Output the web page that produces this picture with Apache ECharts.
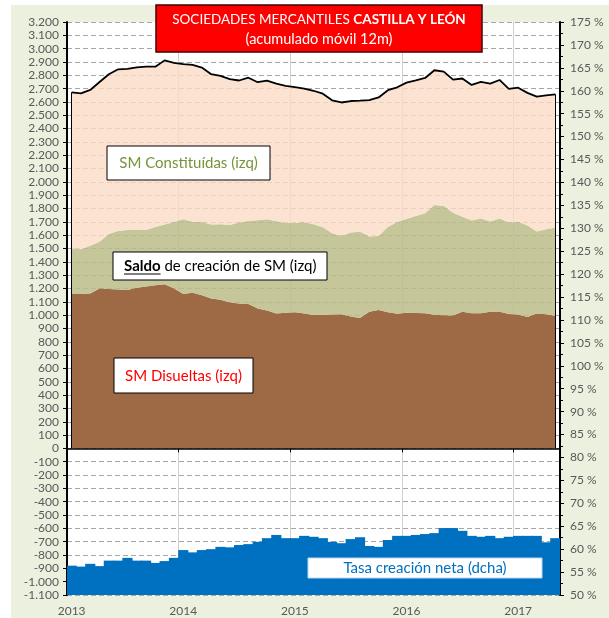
<!DOCTYPE html>
<html><head><meta charset="utf-8">
<script src="https://cdn.jsdelivr.net/npm/echarts@6/dist/echarts.min.js"></script>
<style>html,body{margin:0;padding:0;background:#fff}#c{width:609px;height:618px}</style>
</head><body><div id="c"></div>
<script>
const categories = [
 '2013-01','2013-02','2013-03','2013-04','2013-05','2013-06','2013-07','2013-08','2013-09','2013-10','2013-11','2013-12',
 '2014-01','2014-02','2014-03','2014-04','2014-05','2014-06','2014-07','2014-08','2014-09','2014-10','2014-11','2014-12',
 '2015-01','2015-02','2015-03','2015-04','2015-05','2015-06','2015-07','2015-08','2015-09','2015-10','2015-11','2015-12',
 '2016-01','2016-02','2016-03','2016-04','2016-05','2016-06','2016-07','2016-08','2016-09','2016-10','2016-11','2016-12',
 '2017-01','2017-02','2017-03','2017-04','2017-05'];
// top of brown band (SM Disueltas)
const topeDisueltas = [1159,1159,1162,1200,1196,1193,1189,1205,1216,1225,1232,1201,
 1159,1169,1150,1125,1115,1095,1088,1084,1050,1035,1012,1018,
 1021,1013,1002,1004,1005,1006,990,978,1026,1038,1022,1010,
 1018,1016,1014,1003,1000,997,1026,1014,1014,1025,1026,1008,
 1005,986,1012,1006,996];
// top of olive band (Saldo)
const topeSaldo = [1502,1494,1521,1551,1610,1632,1639,1639,1639,1662,1680,1700,
 1719,1701,1700,1680,1682,1677,1695,1706,1713,1720,1705,1692,
 1692,1697,1682,1660,1614,1594,1620,1626,1590,1594,1662,1700,
 1722,1745,1764,1826,1819,1769,1739,1710,1726,1702,1726,1695,
 1701,1672,1628,1644,1656];
// top of peach band (SM Constituidas, black line)
const topeConstituidas = [2672,2665,2690,2750,2808,2845,2848,2860,2865,2865,2912,2893,
 2884,2878,2858,2808,2795,2771,2761,2782,2748,2760,2738,2720,
 2712,2700,2684,2662,2612,2596,2607,2610,2614,2634,2688,2710,
 2745,2762,2780,2838,2828,2768,2776,2728,2750,2737,2765,2698,
 2707,2668,2640,2650,2657];
// Tasa creación neta (%), right axis
const tasaNeta = [56.4,56.2,56.8,56.3,57.5,57.5,58.1,57.5,57.5,57.0,57.4,58.1,
 59.8,59.3,59.8,60.0,60.5,60.4,60.9,61.1,61.6,62.4,63.1,62.4,
 62.4,62.9,62.7,62.4,61.6,61.3,62.2,62.6,60.7,60.5,62.0,62.9,
 62.9,63.1,63.3,63.5,64.6,64.6,64.0,62.9,62.7,62.9,62.4,62.7,
 62.9,62.9,62.9,61.5,62.4];

const bandSaldo = topeSaldo.map((v, i) => v - topeDisueltas[i]);
const bandConst = topeConstituidas.map((v, i) => v - topeSaldo[i]);
const last = categories.length - 1;

const fmtLeft = v => (v < 0 ? '-' : '') + Math.abs(v).toString().replace(/\B(?=(\d{3})+(?!\d))/g, '.');
const FONT = 'Lato';
const BOX = '15px ' + FONT;
const mctx = document.createElement('canvas').getContext('2d');
mctx.font = 'bold ' + BOX;
const saldoW = mctx.measureText('Saldo').width;

const chart = echarts.init(document.getElementById('c'), null, {renderer: 'canvas'});
chart.setOption({
  backgroundColor: '#EBF1DE',
  animation: false,
  grid: {left: 67, right: 49, top: 22, bottom: 23, show: true, backgroundColor: '#fff', borderWidth: 0},
  xAxis: [
    {type: 'category', data: categories, boundaryGap: true, position: 'bottom', z: 10,
     axisLine: {onZero: true, onZeroAxisIndex: 0, lineStyle: {color: '#000', width: 1.5}},
     axisTick: {show: true, interval: i => i % 12 === 0, length: 4, lineStyle: {color: '#000'}},
     axisLabel: {show: false},
     splitLine: {show: false}},
    {type: 'category', data: categories, boundaryGap: true, position: 'bottom',
     axisLine: {show: false, onZero: false}, axisTick: {show: false},
     axisLabel: {interval: i => i % 12 === 0, formatter: v => v.slice(0, 4), color: '#595959', fontSize: 12, fontFamily: FONT, margin: 10},
     splitLine: {show: true, interval: i => i % 12 === 0 && i > 0, lineStyle: {color: '#D0D0D0', width: 1, type: 'solid'}}}
  ],
  yAxis: [
    {type: 'value', min: -1100, max: 3200, interval: 100, position: 'left',
     axisLine: {show: true, lineStyle: {color: '#000', width: 2}},
     axisTick: {show: true, length: 4, lineStyle: {color: '#000'}},
     axisLabel: {formatter: fmtLeft, color: '#595959', fontSize: 12, fontFamily: FONT, margin: 8},
     splitLine: {show: true, lineStyle: {color: '#A6A6A6', width: 1, type: [5, 3]}}},
    {type: 'value', min: 50, max: 175, interval: 5, position: 'right', startValue: 50,
     axisLine: {show: true, lineStyle: {color: '#000', width: 2}},
     axisTick: {show: true, length: 4, lineStyle: {color: '#000'}},
     minorTick: {show: true, splitNumber: 2, length: 3, lineStyle: {color: '#000'}},
     axisLabel: {formatter: v => v + ' %', color: '#595959', fontSize: 12, fontFamily: FONT, margin: 10},
     splitLine: {show: false}}
  ],
  series: [
    {name: 'Tasa creación neta (dcha)', type: 'bar', xAxisIndex: 1, yAxisIndex: 1, data: tasaNeta,
     barWidth: 10.2, barCategoryGap: '0%', itemStyle: {color: '#0070C0'},
     clip: true, z: 2, silent: true},
    {name: 'SM Disueltas (izq)', type: 'line', xAxisIndex: 0, yAxisIndex: 0, stack: 's', data: topeDisueltas,
     symbol: 'none', lineStyle: {width: 0}, areaStyle: {color: '#9E6A45', opacity: 1}, z: 3, silent: true},
    {name: 'Saldo de creación de SM (izq)', type: 'line', xAxisIndex: 0, yAxisIndex: 0, stack: 's', data: bandSaldo,
     symbol: 'none', lineStyle: {width: 0}, areaStyle: {color: '#BBBD88', opacity: 0.86}, z: 3, silent: true},
    {name: 'SM Constituídas (izq)', type: 'line', xAxisIndex: 0, yAxisIndex: 0, stack: 's', data: bandConst,
     symbol: 'none', lineStyle: {width: 1.8, color: '#000'}, areaStyle: {color: '#FADBC6', opacity: 0.8}, z: 4, silent: true,
     markLine: {silent: true, symbol: 'none', label: {show: false}, lineStyle: {color: '#000', width: 1, type: 'solid'},
       data: [
         [{coord: [categories[0], 0]}, {coord: [categories[0], topeConstituidas[0]]}],
         [{coord: [categories[last], 0]}, {coord: [categories[last], topeConstituidas[last]]}]
       ]}}
  ],
  graphic: [
    {type: 'rect', shape: {x: 0, y: 0, width: 609, height: 5}, style: {fill: '#fff'}, silent: true},
    {type: 'rect', shape: {x: 0, y: 0, width: 11, height: 618}, style: {fill: '#fff'}, silent: true},
    {type: 'rect', shape: {x: 156, y: 5, width: 326, height: 47}, style: {fill: '#FF0000', stroke: '#400000', lineWidth: 1.5}, z: 100},
    {type: 'text', x: 319, y: 20, z: 101, style: {text: '{a|SOCIEDADES MERCANTILES }{b|CASTILLA Y LEÓN}',
      align: 'center', verticalAlign: 'middle',
      rich: {a: {fill: '#fff', font: '13.5px ' + FONT}, b: {fill: '#fff', font: 'bold 13.5px ' + FONT}}}},
    {type: 'text', x: 319, y: 39.5, z: 101, style: {text: '(acumulado móvil 12m)', fill: '#fff', font: '14.5px ' + FONT, align: 'center', verticalAlign: 'middle'}},

    {type: 'rect', shape: {x: 107, y: 146, width: 163, height: 34}, style: {fill: '#fff', stroke: '#000', lineWidth: 1}, z: 100},
    {type: 'text', x: 188.5, y: 163.5, z: 101, style: {text: 'SM Constituídas (izq)', fill: '#77933C', font: BOX, align: 'center', verticalAlign: 'middle'}},

    {type: 'rect', shape: {x: 113, y: 252, width: 214, height: 28}, style: {fill: '#fff', stroke: '#000', lineWidth: 1}, z: 100},
    {type: 'text', x: 124, y: 266, z: 101, style: {text: '{b|Saldo}{a| de creación de SM (izq)}', align: 'left', verticalAlign: 'middle',
      rich: {a: {fill: '#000', font: BOX}, b: {fill: '#000', font: 'bold ' + BOX}}}},
    {type: 'line', z: 101, shape: {x1: 124, y1: 274, x2: 124 + saldoW, y2: 274}, style: {stroke: '#000', lineWidth: 1}},

    {type: 'rect', shape: {x: 114, y: 358, width: 139, height: 35}, style: {fill: '#fff', stroke: '#000', lineWidth: 1}, z: 100},
    {type: 'text', x: 183.5, y: 376.5, z: 101, style: {text: 'SM Disueltas (izq)', fill: '#FF0000', font: BOX, align: 'center', verticalAlign: 'middle'}},

    {type: 'rect', shape: {x: 308, y: 558, width: 234, height: 20}, style: {fill: '#fff', stroke: '#BDD7EE', lineWidth: 1}, z: 100},
    {type: 'text', x: 425, y: 568, z: 101, style: {text: 'Tasa creación neta (dcha)', fill: '#0070C0', font: BOX, align: 'center', verticalAlign: 'middle'}}
  ]
});
</script>
</body></html>
